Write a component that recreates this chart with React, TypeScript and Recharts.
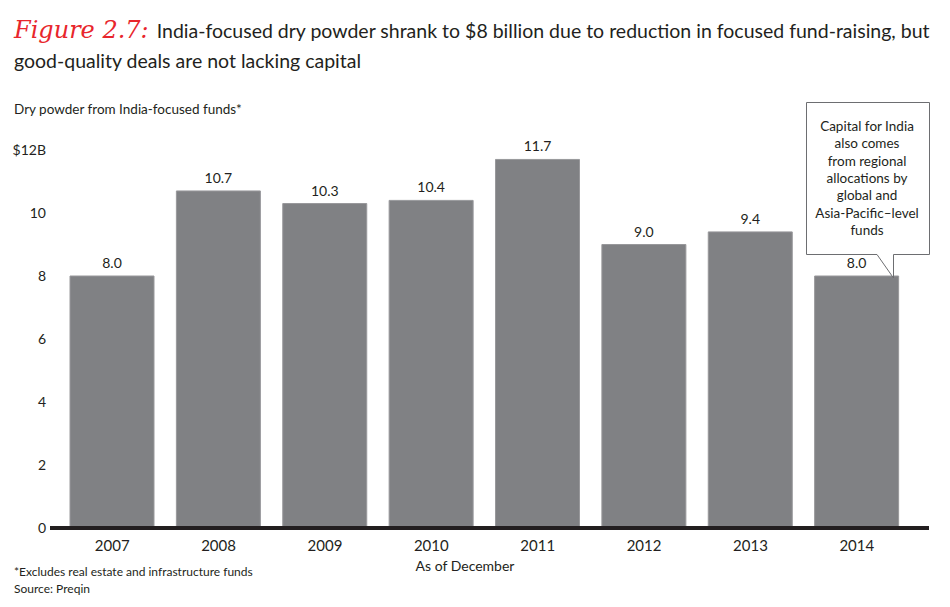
import { Bar, BarChart, LabelList, XAxis, YAxis } from 'recharts'

const years = ['2007', '2008', '2009', '2010', '2011', '2012', '2013', '2014']
const dryPowder = [8.0, 10.7, 10.3, 10.4, 11.7, 9.0, 9.4, 8.0]
const yTicks = [0, 2, 4, 6, 8, 10, 12]
const calloutLines = [
  'Capital for India',
  'also comes',
  'from regional',
  'allocations by',
  'global and',
  'Asia-Pacific–level',
  'funds',
]

const data = years.map((year, i) => ({ year, value: dryPowder[i] }))

const FONT = 'Lato, "Noto Sans", sans-serif'
const INK = '#231f20'

export default function App() {
  return (
    <div
      style={{
        position: 'absolute',
        left: 0,
        top: 0,
        width: 950,
        height: 607,
        background: '#fff',
        fontFamily: FONT,
        color: INK,
      }}
    >
      {/* title */}
      <div
        style={{
          position: 'absolute',
          left: 14,
          top: 15,
          width: 936,
          fontSize: 19.5,
          lineHeight: '30px',
          whiteSpace: 'nowrap',
        }}
      >
        <span
          style={{
            fontFamily: '"DejaVu Serif", serif',
            fontStyle: 'italic',
            color: '#e8262c',
            fontSize: 24,
            marginRight: 8,
          }}
        >
          Figure 2.7:
        </span>
        India-focused dry powder shrank to $8 billion due to reduction in focused fund-raising, but
        <br />
        good-quality deals are not lacking capital
      </div>

      <div style={{ position: 'absolute', left: 14, top: 101, fontSize: 13.5 }}>
        Dry powder from India-focused funds*
      </div>

      <BarChart
        width={950}
        height={607}
        data={data}
        margin={{ top: 150, right: 21, bottom: 49, left: 10 }}
        style={{ position: 'absolute', left: 0, top: 0 }}
      >
        <YAxis
          width={40}
          domain={[0, 12]}
          ticks={yTicks}
          interval={0}
          axisLine={false}
          tickLine={false}
          tickSize={0}
          tickMargin={4}
          tickFormatter={(v) => (v === 12 ? '$12B' : `${v}`)}
          tick={{ fill: INK, fontSize: 14, fontFamily: FONT }}
        />
        <XAxis
          dataKey="year"
          height={30}
          padding={{ left: 9, right: 19 }}
          axisLine={{ stroke: INK, strokeWidth: 4 }}
          tickLine={false}
          tickMargin={6}
          tick={{ fill: INK, fontSize: 15, fontFamily: FONT }}
        />
        <Bar
          dataKey="value"
          fill="#808184"
          stroke="#98989b"
          strokeWidth={1}
          barSize={84}
          isAnimationActive={false}
        >
          <LabelList
            dataKey="value"
            position="top"
            offset={8}
            formatter={(v: number) => v.toFixed(1)}
            style={{ fill: INK, fontSize: 14, fontFamily: FONT }}
          />
        </Bar>
      </BarChart>

      {/* callout */}
      <svg
        width={950}
        height={607}
        style={{ position: 'absolute', left: 0, top: 0, pointerEvents: 'none' }}
      >
        <path
          d="M806.5 102.5 H929.5 V254.5 H893.5 V278 L877 254.5 H806.5 Z"
          fill="#fff"
          stroke="#6d6e71"
          strokeWidth={1}
        />
        {calloutLines.map((line, i) => (
          <text
            key={line}
            x={867}
            y={131 + i * 17.3}
            textAnchor="middle"
            fontSize={13.5}
            fontFamily={FONT}
            fill={INK}
          >
            {line}
          </text>
        ))}
      </svg>

      <div
        style={{
          position: 'absolute',
          left: 400,
          width: 130,
          textAlign: 'center',
          top: 557,
          fontSize: 14,
        }}
      >
        As of December
      </div>
      <div style={{ position: 'absolute', left: 14, top: 563, fontSize: 12, lineHeight: '17px' }}>
        *Excludes real estate and infrastructure funds
        <br />
        Source: Preqin
      </div>
    </div>
  )
}
